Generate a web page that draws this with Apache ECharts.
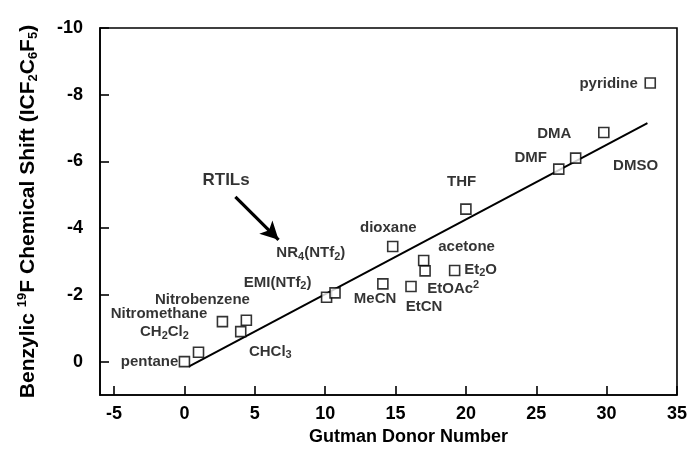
<!DOCTYPE html>
<html><head><meta charset="utf-8">
<script src="https://cdn.jsdelivr.net/npm/echarts@6/dist/echarts.min.js"></script>
<style>html,body{margin:0;padding:0;background:#fff}#c{width:690px;height:456px}</style>
</head><body><div id="c"></div>
<script>
// Solvent data: Gutman donor number vs. benzylic 19F chemical shift
const solventNames = ['pentane','CH2Cl2','Nitromethane','CHCl3','Nitrobenzene','EMI(NTf2)','NR4(NTf2)','MeCN','dioxane','EtCN','acetone','EtOAc','Et2O','THF','DMF','DMA','DMSO','pyridine'];
const donorNumbers = [0, 1.0, 2.7, 4.0, 4.4, 10.1, 10.7, 14.1, 14.8, 16.1, 17.0, 17.1, 19.2, 20.0, 26.6, 27.8, 29.8, 33.1];
const chemShifts   = [0, -0.28, -1.2, -0.9, -1.24, -1.93, -2.06, -2.33, -3.45, -2.25, -3.03, -2.72, -2.73, -4.57, -5.77, -6.1, -6.87, -8.35];

// Linear fit line endpoints
const fitX = [0.3, 32.9];
const fitY = [0.15, -7.15];

// Tick labels
const xTicks = [-5, 0, 5, 10, 15, 20, 25, 30, 35];
const yTicks = [-10, -8, -6, -4, -2, 0];

// Annotation texts and their anchor points (data units)
const labelTexts = ['pyridine','DMA','DMF','DMSO','THF','dioxane','acetone','Et2O','EtOAc','MeCN','EtCN','NR4(NTf2)','EMI(NTf2)','Nitrobenzene','Nitromethane','CH2Cl2','pentane','CHCl3','RTILs'];
const labelX = [30.14, 26.28, 24.6, 32.06, 19.7, 14.49, 20.05, 21.04, 19.1, 13.55, 17.02, 8.98, 6.62, 1.28, -1.81, -1.42, -2.48, 6.1, 2.96];
const labelY = [-8.32, -6.83, -6.12, -5.87, -5.39, -4.0, -3.45, -2.75, -2.18, -1.88, -1.64, -3.25, -2.36, -1.86, -1.43, -0.88, 0.0, -0.3, -5.42];

// Arrow (RTILs) from / to in data units
const arrowFrom = [3.62, -4.94];
const arrowTo = [6.69, -3.65];

const richFmt = {
  'NR4(NTf2)': '{t|NR}{s|4}{t|(NTf}{s|2}{t|)}',
  'EMI(NTf2)': '{t|EMI(NTf}{s|2}{t|)}',
  'CH2Cl2': '{t|CH}{s|2}{t|Cl}{s|2}',
  'CHCl3': '{t|CHCl}{s|3}',
  'Et2O': '{t|Et}{s|2}{t|O}',
  'EtOAc': '{t|EtOAc}{p|2}'
};

const FONT = '"Liberation Sans", Arial, Helvetica, sans-serif';
const chart = echarts.init(document.getElementById('c'), null, {renderer: 'canvas'});

const points = donorNumbers.map((x, i) => ({name: solventNames[i], value: [x, chemShifts[i]]}));
const labels = labelTexts.map((t, i) => {
  const item = {name: t, value: [labelX[i], labelY[i]]};
  if (t === 'RTILs') item.label = {fontSize: 17, fontWeight: 'bold'};
  return item;
});

chart.setOption({
  animation: false,
  backgroundColor: '#fff',
  textStyle: {fontFamily: FONT, color: '#000'},
  grid: {left: 100, right: 12, top: 28, bottom: 61, show: true, borderColor: '#000', borderWidth: 1.6, containLabel: false},
  xAxis: {
    type: 'value', min: -6, max: 35,
    name: 'Gutman Donor Number', nameLocation: 'middle', nameGap: 32,
    nameTextStyle: {fontFamily: FONT, fontSize: 18, fontWeight: 'bold', color: '#000', padding: [0, 0, 0, 40]},
    axisLine: {show: true, onZero: false, lineStyle: {color: '#000', width: 1.6}},
    axisTick: {show: true, inside: true, length: 9, lineStyle: {color: '#000', width: 1.6}, customValues: xTicks},
    axisLabel: {fontFamily: FONT, fontSize: 18, fontWeight: 'bold', color: '#000', margin: 10, customValues: xTicks},
    splitLine: {show: false}
  },
  yAxis: {
    type: 'value', min: -10, max: 1, inverse: true,
    name: '{t|Benzylic }{p|19}{t|F Chemical Shift (ICF}{s|2}{t|C}{s|6}{t|F}{s|5}{t|)}',
    nameLocation: 'middle', nameGap: 60,
    nameTextStyle: {
      fontFamily: FONT, color: '#000', fontWeight: 'bold',
      rich: {
        t: {fontFamily: FONT, fontSize: 21, fontWeight: 'bold', lineHeight: 24, color: '#000'},
        s: {fontFamily: FONT, fontSize: 13, fontWeight: 'bold', lineHeight: 6, verticalAlign: 'bottom', color: '#000'},
        p: {fontFamily: FONT, fontSize: 13, fontWeight: 'bold', lineHeight: 6, verticalAlign: 'top', color: '#000'}
      }
    },
    axisLine: {show: true, onZero: false, lineStyle: {color: '#000', width: 1.6}},
    axisTick: {show: true, inside: true, length: 9, lineStyle: {color: '#000', width: 1.6}, customValues: yTicks},
    axisLabel: {fontFamily: FONT, fontSize: 18, fontWeight: 'bold', color: '#000', margin: 17, customValues: yTicks},
    splitLine: {show: false}
  },
  series: [
    {
      type: 'line', name: 'fit', z: 2, symbol: 'none',
      data: fitX.map((x, i) => [x, fitY[i]]),
      lineStyle: {color: '#000', width: 2}
    },
    {
      type: 'scatter', name: 'solvents', z: 3,
      symbol: 'rect', symbolSize: 10,
      itemStyle: {color: '#fff', borderColor: '#000', borderWidth: 1.6},
      data: points
    },
    {
      type: 'scatter', name: 'labels', z: 4,
      symbolSize: 1, itemStyle: {color: 'rgba(0,0,0,0)'},
      data: labels,
      label: {
        show: true, position: 'inside', color: '#000',
        fontFamily: FONT, fontSize: 15, fontWeight: 'bold',
        formatter: p => richFmt[p.name] || p.name,
        rich: {
          t: {fontFamily: FONT, fontSize: 15, fontWeight: 'bold', lineHeight: 18, color: '#000'},
          s: {fontFamily: FONT, fontSize: 11, fontWeight: 'bold', lineHeight: 6, verticalAlign: 'bottom', color: '#000'},
          p: {fontFamily: FONT, fontSize: 11, fontWeight: 'bold', lineHeight: 6, verticalAlign: 'top', color: '#000'}
        }
      },
      markLine: {
        silent: true, animation: false,
        symbol: ['none', 'arrow'], symbolSize: [14, 18],
        lineStyle: {color: '#000', width: 3.2, type: 'solid'},
        label: {show: false},
        data: [[{coord: arrowFrom}, {coord: arrowTo}]]
      }
    }
  ]
});
</script>
</body></html>
